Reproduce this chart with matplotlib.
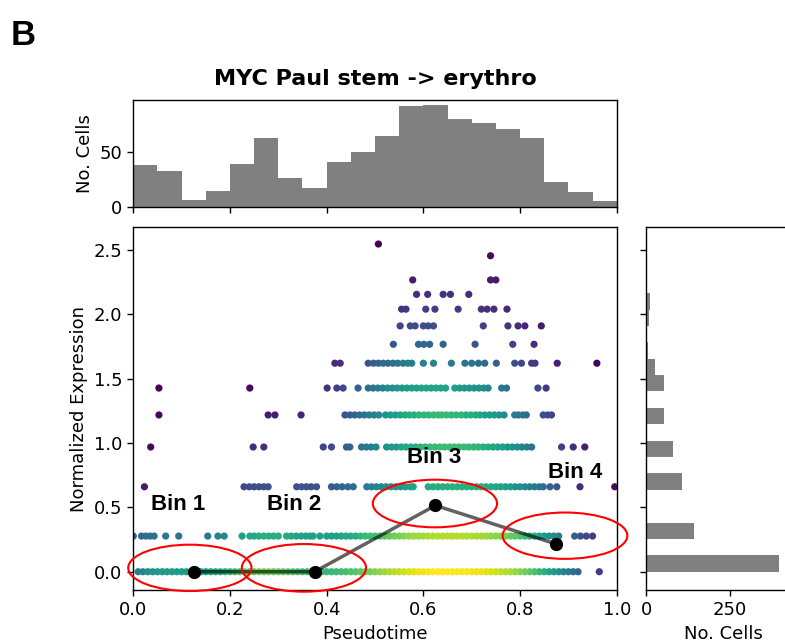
import numpy as np
import matplotlib.pyplot as plt
from matplotlib.patches import Ellipse

# ---- data ----
expr_levels = [0.0, 0.277, 0.660, 0.969, 1.218, 1.427, 1.620, 1.767, 1.910,
               2.040, 2.155, 2.267, 2.455, 2.546]
cells_per_level = [397, 144, 108, 80, 53, 53, 26, 6, 8, 8, 4, 2, 1, 1]

top_counts = [38, 33, 6, 14, 39, 63, 26, 17, 41, 50,
              65, 92, 93, 80, 77, 71, 63, 23, 13, 5]

# pseudotime of the visible cells, one list per expression level
pt_0 = [0.01, 0.02, 0.03, 0.04, 0.05, 0.06, 0.07, 0.08, 0.09, 0.10,
        0.11, 0.12, 0.13, 0.14, 0.15, 0.16, 0.17, 0.18, 0.19, 0.20,
        0.21, 0.22, 0.23, 0.24, 0.25, 0.26, 0.27, 0.28, 0.29, 0.30,
        0.31, 0.32, 0.33, 0.34, 0.35, 0.36, 0.37, 0.38, 0.39, 0.40,
        0.41, 0.42, 0.43, 0.44, 0.45, 0.46, 0.47, 0.48, 0.49, 0.50,
        0.51, 0.52, 0.53, 0.54, 0.55, 0.56, 0.57, 0.58, 0.59, 0.60,
        0.61, 0.62, 0.63, 0.64, 0.65, 0.66, 0.67, 0.68, 0.69, 0.70,
        0.71, 0.72, 0.73, 0.74, 0.75, 0.76, 0.77, 0.78, 0.79, 0.80,
        0.81, 0.82, 0.83, 0.84, 0.85, 0.86, 0.87, 0.88, 0.89, 0.90,
        0.91, 0.92, 0.964]
pt_1 = [0.0, 0.017, 0.026, 0.035, 0.043, 0.067, 0.094, 0.154, 0.175, 0.188,
        0.225, 0.241, 0.25, 0.26, 0.27, 0.28, 0.29, 0.30, 0.317, 0.327,
        0.337, 0.347, 0.357, 0.366, 0.372, 0.386,
        0.40, 0.41, 0.42, 0.43, 0.44, 0.45, 0.46, 0.47, 0.48, 0.49,
        0.50, 0.51, 0.52, 0.53, 0.54, 0.55, 0.56, 0.57, 0.58, 0.59,
        0.60, 0.61, 0.62, 0.63, 0.64, 0.65, 0.66, 0.67, 0.68, 0.69,
        0.70, 0.71, 0.72, 0.73, 0.74, 0.75, 0.76, 0.77, 0.78, 0.79,
        0.80, 0.81, 0.82, 0.83, 0.84, 0.85, 0.86, 0.87, 0.88,
        0.913, 0.925, 0.937, 0.950]
pt_2 = [0.023, 0.229, 0.24, 0.25, 0.26, 0.27, 0.279,
        0.338, 0.348, 0.358, 0.368, 0.379, 0.41, 0.421, 0.432, 0.444, 0.455,
        0.483, 0.493, 0.503, 0.513, 0.523, 0.533, 0.543, 0.553, 0.563,
        0.573, 0.579, 0.61, 0.62, 0.63, 0.64, 0.65, 0.66, 0.67, 0.68,
        0.69, 0.70, 0.71, 0.72, 0.73, 0.74, 0.75, 0.76, 0.77, 0.78,
        0.79, 0.80, 0.81, 0.82, 0.83, 0.84, 0.848, 0.862, 0.876, 0.924,
        0.996]
pt_3 = [0.036, 0.248, 0.27, 0.393, 0.41, 0.441, 0.448, 0.472, 0.482, 0.492,
        0.502, 0.524, 0.534, 0.544, 0.554, 0.564, 0.574, 0.584, 0.594,
        0.604, 0.614, 0.624, 0.634, 0.644, 0.654, 0.664, 0.674, 0.684,
        0.694, 0.704, 0.714, 0.724, 0.734, 0.744, 0.754, 0.764, 0.774,
        0.784, 0.794, 0.804, 0.814, 0.824, 0.886, 0.91, 0.934]
pt_4 = [0.053, 0.279, 0.293, 0.347, 0.438, 0.448, 0.458, 0.468, 0.478,
        0.488, 0.498, 0.508, 0.522, 0.532, 0.542, 0.552, 0.562, 0.571,
        0.581, 0.591, 0.601, 0.611, 0.621, 0.631, 0.638, 0.648, 0.658,
        0.668, 0.678, 0.688, 0.698, 0.708, 0.717, 0.727, 0.737, 0.747,
        0.757, 0.767, 0.789, 0.797, 0.806, 0.813, 0.848, 0.857, 0.865]
pt_5 = [0.053, 0.241, 0.401, 0.421, 0.434, 0.465, 0.486, 0.496, 0.506,
        0.516, 0.526, 0.536, 0.546, 0.556, 0.566, 0.576, 0.586, 0.596,
        0.606, 0.616, 0.626, 0.636, 0.646, 0.665, 0.675, 0.685, 0.695,
        0.705, 0.715, 0.725, 0.734, 0.762, 0.772, 0.837, 0.854]
pt_6 = [0.417, 0.428, 0.486, 0.497, 0.507, 0.517, 0.527, 0.537, 0.547,
        0.558, 0.568, 0.576, 0.60, 0.621, 0.658, 0.686, 0.70, 0.714, 0.727,
        0.751, 0.789, 0.803, 0.824, 0.831, 0.877, 0.959]
pt_7 = [0.538, 0.59, 0.601, 0.613, 0.641, 0.707, 0.785, 0.829]
pt_8 = [0.552, 0.573, 0.583, 0.60, 0.61, 0.621, 0.724, 0.775, 0.796, 0.81,
        0.844]
pt_9 = [0.555, 0.564, 0.605, 0.624, 0.672, 0.72, 0.732, 0.746, 0.773]
pt_10 = [0.586, 0.609, 0.641, 0.656, 0.694]
pt_11 = [0.578, 0.739, 0.75]
pt_12 = [0.739]
pt_13 = [0.507]

pt_by_level = [pt_0, pt_1, pt_2, pt_3, pt_4, pt_5, pt_6, pt_7, pt_8, pt_9,
               pt_10, pt_11, pt_12, pt_13]

bin_names = ['Bin 1', 'Bin 2', 'Bin 3', 'Bin 4']
bin_pseudotime = [0.125, 0.375, 0.625, 0.875]
bin_mean_expr = [0.0, 0.0, 0.515, 0.215]

# ---- points and their colour (weighted 2D gaussian density) ----
x = np.concatenate([np.array(p, float) for p in pt_by_level])
lvl = np.concatenate([np.full(len(p), i) for i, p in enumerate(pt_by_level)])
y = np.array(expr_levels)[lvl]

a = np.array(cells_per_level, float)[lvl] / np.bincount(lvl)[lvl]
tbin = np.minimum((x / 0.05).astype(int), 19)
asum = np.bincount(tbin, weights=a, minlength=20)
w = np.array(top_counts, float)[tbin] * a / asum[tbin]

bx, by = 0.07, 0.25
dens = (w[None, :] * np.exp(-0.5 * ((x[:, None] - x[None, :]) / bx) ** 2
                            - 0.5 * ((y[:, None] - y[None, :]) / by) ** 2)).sum(1)
order = np.argsort(dens)

# ---- figure ----
W, H = 785, 642
fig = plt.figure(figsize=(W / 100, H / 100), dpi=100)


def rect(l, t, r, b):
    return [l / W, 1 - b / H, (r - l) / W, (b - t) / H]


FS = 13
ax = fig.add_axes(rect(133.3, 227.3, 616.7, 590))
ax_top = fig.add_axes(rect(133.3, 100, 616.7, 206.7))
ax_right = fig.add_axes(rect(646, 227.3, 800, 590))

ax.scatter(x[order], y[order], c=dens[order], cmap='viridis', s=27,
           linewidths=0, zorder=2)
ax.plot(bin_pseudotime, bin_mean_expr, '-', color='k', alpha=0.62, lw=2.5,
        zorder=3)
ax.plot(bin_pseudotime, bin_mean_expr, 'o', color='k', ms=8.5, zorder=4)

# hand-drawn style annotations
ellipses = [(0.117, 0.03, 0.255, 0.36), (0.353, 0.03, 0.257, 0.37),
            (0.624, 0.53, 0.257, 0.37), (0.893, 0.28, 0.258, 0.36)]
for cx, cy, ew, eh in ellipses:
    ax.add_patch(Ellipse((cx, cy), ew, eh, fill=False, edgecolor='red',
                         lw=1.5, clip_on=False, zorder=5))
label_pos = [(0.036, 0.48), (0.276, 0.48), (0.567, 0.847), (0.858, 0.726)]
for name, (tx, ty) in zip(bin_names, label_pos):
    ax.text(tx, ty, name, fontsize=16, fontweight='bold',
            family='Liberation Sans', zorder=6)

ax.set_xlim(0, 1)
ax.set_ylim(-0.142, 2.676)
ax.set_xticks([0, 0.2, 0.4, 0.6, 0.8, 1.0])
ax.set_yticks([0, 0.5, 1.0, 1.5, 2.0, 2.5])
ax.set_xlabel('Pseudotime', fontsize=FS)
ax.set_ylabel('Normalized Expression', fontsize=FS)

# top histogram: cells per pseudotime bin
t_edges = np.linspace(0, 1, 21)
ax_top.hist(t_edges[:-1], bins=t_edges, weights=top_counts, color='grey')
ax_top.set_xlim(0, 1)
ax_top.set_xticks([0, 0.2, 0.4, 0.6, 0.8, 1.0])
ax_top.tick_params(labelbottom=False)
ax_top.set_yticks([0, 50])
ax_top.set_ylabel('No. Cells', fontsize=FS)
ax_top.set_title('MYC Paul stem -> erythro', fontsize=16, fontweight='bold',
                 pad=11)

# right histogram: cells per expression level
ax_right.hist(expr_levels, bins=20, weights=cells_per_level, color='grey',
              orientation='horizontal')
ax_right.set_ylim(ax.get_ylim())
ax_right.set_yticks([0, 0.5, 1.0, 1.5, 2.0, 2.5])
ax_right.tick_params(labelleft=False)
ax_right.set_xlim(0, 458)
ax_right.set_xticks([0, 250])
ax_right.set_xlabel('No. Cells', fontsize=FS)

for a_ in (ax, ax_top, ax_right):
    a_.tick_params(labelsize=FS, length=4.5, width=1)
    for s in a_.spines.values():
        s.set_linewidth(1.0)

fig.text(11 / W, 1 - 45 / H, 'B', fontsize=25, fontweight='bold',
         family='Liberation Sans', va='baseline')

fig.savefig('out.png', dpi=100)
